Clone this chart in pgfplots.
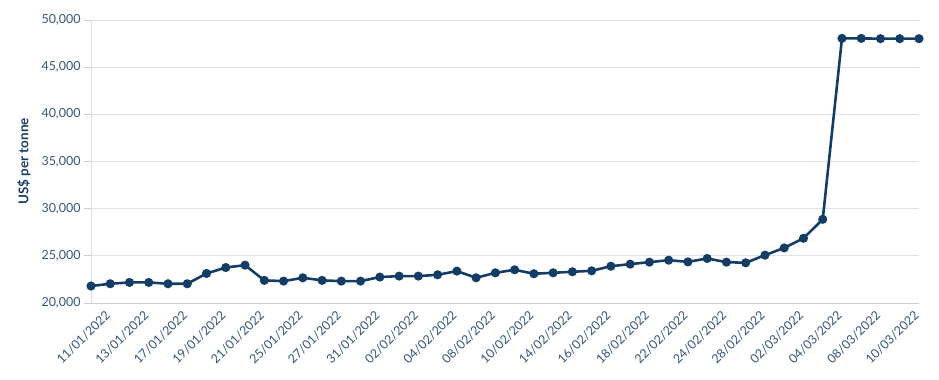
\documentclass[border=0pt]{standalone}
\usepackage{fontspec}
\setmainfont{Lato}
\usepackage{pgfplots}
\pgfplotsset{compat=1.18}
\definecolor{linecol}{HTML}{143D66}
\definecolor{tickcol}{HTML}{34557C}
\definecolor{gridcol}{HTML}{DDE2EA}
\definecolor{axcol}{HTML}{C8CFD8}
\definecolor{labcol}{HTML}{1B3F66}
\begin{document}
\begin{tikzpicture}
\path (0,0) rectangle (939bp,380bp);
\begin{axis}[
  at={(91bp,77bp)}, anchor=south west,
  scale only axis, width=828bp, height=283bp,
  xmin=0, xmax=43, ymin=20000, ymax=50000,
  ytick={20000,25000,30000,35000,40000,45000,50000},
  xtick={0,2,...,42},
  xticklabels={11/01/2022,13/01/2022,17/01/2022,19/01/2022,21/01/2022,25/01/2022,27/01/2022,31/01/2022,02/02/2022,04/02/2022,08/02/2022,10/02/2022,14/02/2022,16/02/2022,18/02/2022,22/02/2022,24/02/2022,28/02/2022,02/03/2022,04/03/2022,08/03/2022,10/03/2022},
  xticklabel style={rotate=45, anchor=north east, font=\fontsize{12.5}{14}\selectfont, text=tickcol, inner sep=1pt, xshift=6bp, yshift=-13bp},
  yticklabel style={font=\fontsize{12.5}{14}\selectfont, text=tickcol},
  /pgf/number format/assume math mode=true,
  /pgf/number format/1000 sep={,},
  scaled y ticks=false,
  ymajorgrids, grid style={gridcol, line width=0.8pt},
  axis x line*=bottom, axis y line*=left,
  x axis line style={axcol, line width=0.8pt, -},
  y axis line style={gridcol, line width=0.8pt, -},
  major x tick style={draw=none},
  major y tick style={axcol, line width=0.8pt},
  ytick align=outside, major tick length=7bp,
  ylabel={US\$ per tonne},
  ylabel style={font=\bfseries\fontsize{13.5}{15}\selectfont, text=labcol, yshift=4bp},
  clip=false,
]
\addplot[linecol, line width=2.6pt, mark=*, mark size=3.2pt, mark options={fill=linecol, draw=linecol}] coordinates {
(0,21800) (1,22040) (2,22180) (3,22180) (4,22040) (5,22040) (6,23130) (7,23760) (8,24010) (9,22400)
(10,22320) (11,22670) (12,22400) (13,22320) (14,22320) (15,22750) (16,22850) (17,22850) (18,22990) (19,23380)
(20,22670) (21,23200) (22,23520) (23,23100) (24,23200) (25,23310) (26,23410) (27,23900) (28,24120) (29,24330)
(30,24540) (31,24360) (32,24720) (33,24330) (34,24260) (35,25070) (36,25840) (37,26860) (38,28870) (39,48050)
(40,48050) (41,48020) (42,48020) (43,48020)
};
\end{axis}
\end{tikzpicture}
\end{document}
